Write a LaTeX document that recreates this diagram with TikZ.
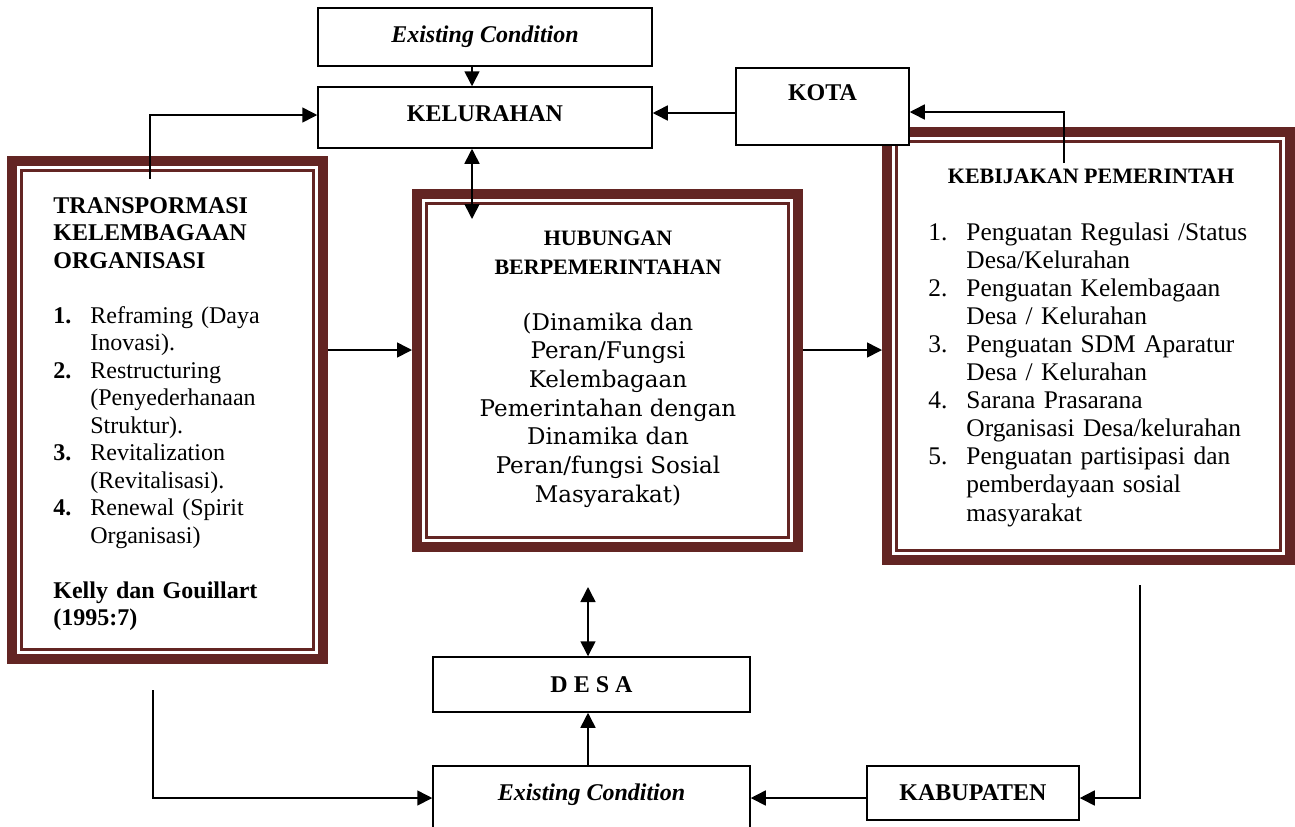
\documentclass[tikz,border=0pt]{standalone}
\usepackage{fontspec}
\setmainfont{Liberation Serif}
\newfontfamily\bookfont{DejaVu Serif}
\usetikzlibrary{
	arrows.meta,
	positioning
}
\definecolor{frameRed}{HTML}{632523}
\newcommand{\numat}[2]{\makebox[#1][l]{#2}}

\begin{document}
\begin{tikzpicture}[
	x=0.5pt, y=-0.5pt,
	>={Triangle[length=7.5pt, width=7.5pt]},
	box/.style={
		draw, line width=0.75pt, fill=white, inner sep=0pt,
		align=center, font=\bfseries\fontsize{12}{14}\selectfont
	},
	frame/.style={draw=frameRed, line width=5pt, outer sep=2.5pt, inner sep=0pt},
	thinframe/.style={draw=frameRed, line width=1.5pt},
	arrow/.style={->, line width=0.8pt},
	twoway/.style={<->, line width=0.8pt},
	bodytext/.style={inner sep=0pt, align=left, text width=#1}
	]
	\useasboundingbox (0,0) rectangle (1295,826);
	
	% Framed boxes (thick-thin border)
	\node[frame, minimum width=155.5pt, minimum height=249pt] (trans) at (167.5,410) {};
	\node[frame, minimum width=190.5pt, minimum height=176.5pt] (hub) at (607.5,370.5) {};
	\node[frame, minimum width=201.5pt, minimum height=214pt] (keb) at (1088.5,346) {};
	\foreach \f in {trans,hub,keb}
		\draw[thinframe] ([shift={(7.25pt,-7.25pt)}]\f.north west) rectangle ([shift={(-7.25pt,7.25pt)}]\f.south east);
	
	% Plain boxes
	\node[box, minimum width=167pt, text height=17pt, text depth=12pt] (topex) at (485,37) {\itshape Existing Condition};
	\node[box, minimum width=167pt, text height=17pt, text depth=13.5pt] (kel) at (485,117.5) {KELURAHAN};
	\node[box, minimum width=86.5pt, text height=16pt, text depth=22.5pt] (kota) at (822.5,106.5) {KOTA};
	\node[box, minimum width=158.5pt, text height=17.5pt, text depth=10pt] (desa) at (591.5,684.5) {D E S A};
	\node[box, minimum width=158.5pt, text height=17pt, text depth=18pt] (botex) at (591.5,801) {\itshape Existing Condition};
	\node[box, minimum width=106pt, text height=17pt, text depth=10pt] (kab) at (973,793) {KABUPATEN};
	
	% Texts inside the framed boxes
	\node[bodytext=135pt, anchor=base west, font=\fontsize{12}{13.75}\selectfont] (transtxt) at (53,213) {
		\textbf{TRANSPORMASI}\\
		\textbf{KELEMBAGAAN}\\
		\textbf{ORGANISASI}\\[13.75pt]
		\numat{18.5pt}{\textbf{1.}}Reframing (Daya\\
		\hspace*{18.5pt}Inovasi).\\
		\numat{18.5pt}{\textbf{2.}}Restructuring\\
		\hspace*{18.5pt}(Penyederhanaan\\
		\hspace*{18.5pt}Struktur).\\
		\numat{18.5pt}{\textbf{3.}}Revitalization\\
		\hspace*{18.5pt}(Revitalisasi).\\
		\numat{18.5pt}{\textbf{4.}}Renewal (Spirit\\
		\hspace*{18.5pt}Organisasi)\\[13.75pt]
		\textbf{Kelly dan Gouillart}\\
		\textbf{(1995:7)}};
	
	% centred blocks sit on the baseline of their last line
	\node[anchor=base, align=center, inner sep=0pt, font=\bfseries\fontsize{11}{14.5}\selectfont] (hubttl) at (608,274) {HUBUNGAN\\BERPEMERINTAHAN};
	\node[anchor=base, align=center, inner sep=0pt, font=\bookfont\fontsize{11.5}{14.33}\selectfont] (hubtxt) at (608,502) {
		(Dinamika dan\\
		Peran/Fungsi\\
		Kelembagaan\\
		Pemerintahan dengan\\
		Dinamika dan\\
		Peran/fungsi Sosial\\
		Masyarakat)};
	
	\node[anchor=base, inner sep=0pt, font=\bfseries\fontsize{11}{14}\selectfont] (kebttl) at (1091,183) {KEBIJAKAN PEMERINTAH};
	\node[bodytext=170pt, anchor=base west, font=\fontsize{12.7}{14.05}\selectfont] (kebtxt) at (928,240) {
		\numat{19pt}{1.}Penguatan Regulasi /Status\\
		\hspace*{19pt}Desa/Kelurahan\\
		\numat{19pt}{2.}Penguatan Kelembagaan\\
		\hspace*{19pt}Desa / Kelurahan\\
		\numat{19pt}{3.}Penguatan SDM Aparatur\\
		\hspace*{19pt}Desa / Kelurahan\\
		\numat{19pt}{4.}Sarana Prasarana\\
		\hspace*{19pt}Organisasi Desa/kelurahan\\
		\numat{19pt}{5.}Penguatan partisipasi dan\\
		\hspace*{19pt}pemberdayaan sosial\\
		\hspace*{19pt}masyarakat};
	
	% Helper points for connectors
	\coordinate (kx) at (472,0);
	\coordinate (hubin) at (472,219);
	\coordinate (ky) at (0,113);
	\coordinate (kebtop) at (1064,163);
	\coordinate (transtop) at (150,179);
	\coordinate (midrow) at (0,350);
	\coordinate (hubbot) at (588,587);
	\coordinate (transbot) at (153,690);
	\coordinate (kebbot) at (1140,585);
	\coordinate (low) at (0,798);
	
	% --- Connectors ---
	\draw[arrow] (topex.south -| kx) -- (kel.north -| kx);
	\draw[twoway] (kel.south -| kx) -- (hubin);
	\draw[arrow] (kota.west |- ky) -- (kel.east |- ky);
	\draw[arrow] (kebtop) |- ([yshift=-2.75pt]kota.east);
	\draw[arrow] (transtop) |- ([yshift=1.25pt]kel.west);
	\draw[arrow] (trans.east |- midrow) -- (hub.west |- midrow);
	\draw[arrow] (hub.east |- midrow) -- (keb.west |- midrow);
	\draw[twoway] (hubbot) -- (desa.north -| hubbot);
	\draw[arrow] (botex.north -| hubbot) -- (desa.south -| hubbot);
	\draw[arrow] (transbot) |- (botex.west |- low);
	\draw[arrow] (kab.west |- low) -- (botex.east |- low);
	\draw[arrow] (kebbot) |- (kab.east |- low);
\end{tikzpicture}
\end{document}
